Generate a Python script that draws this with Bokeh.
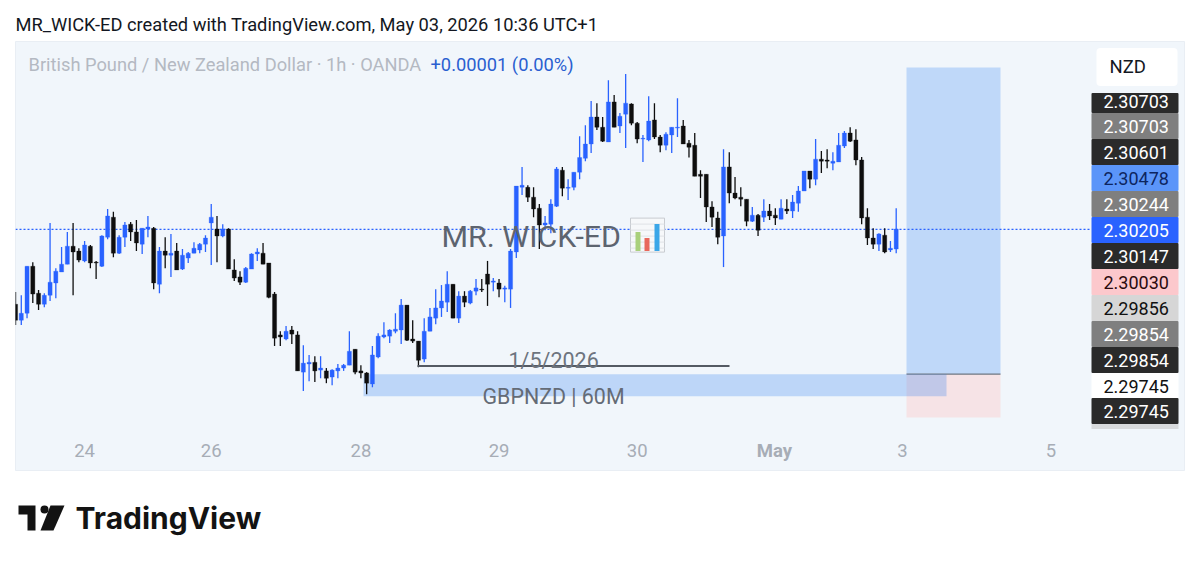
from bokeh.plotting import figure
from bokeh.layouts import column
from bokeh.models import ColumnDataSource, FixedTicker, LinearAxis, Range1d
from bokeh.core.properties import value
from bokeh.embed import file_html
from bokeh.resources import INLINE

# ---- candle data (GBPNZD, 1h) ----
open_ = [2.30022,2.29983,2.30000,2.30115,2.30049,2.30022,2.30044,2.30074,2.30101,2.30120,2.30164,2.30152,2.30128,2.30164,2.30125,2.30115,2.30186,2.30235,2.30147,2.30186,
2.30218,2.30199,2.30169,2.30206,2.30208,2.30071,2.30152,2.30142,2.30152,2.30108,2.30135,2.30147,2.30155,2.30169,2.30221,2.30206,2.30189,2.30206,2.30106,2.30089,
2.30076,2.30108,2.30145,2.30147,2.30123,2.30047,2.29947,2.29937,2.29959,2.29947,2.29856,2.29876,2.29880,2.29861,2.29859,2.29844,2.29859,2.29866,2.29873,2.29912,
2.29859,2.29854,2.29827,2.29893,2.29942,2.29944,2.29956,2.29959,2.30020,2.29937,2.29932,2.29888,2.29956,2.29988,2.30013,2.30027,2.30071,2.29988,2.30042,2.30025,
2.30054,2.30059,2.30096,2.30076,2.30074,2.30059,2.30059,2.30150,2.30308,2.30308,2.30284,2.30257,2.30216,2.30218,2.30262,2.30350,2.30306,2.30308,2.30345,2.30379,
2.30414,2.30480,2.30455,2.30419,2.30517,2.30458,2.30487,2.30512,2.30465,2.30426,2.30424,2.30473,2.30431,2.30411,2.30436,2.30453,2.30458,2.30416,2.30411,2.30340,
2.30340,2.30260,2.30233,2.30189,2.30358,2.30294,2.30284,2.30279,2.30225,2.30240,2.30235,2.30250,2.30240,2.30230,2.30255,2.30250,2.30269,2.30299,2.30348,2.30328,
2.30377,2.30375,2.30367,2.30370,2.30409,2.30441,2.30424,2.30375,2.30235,2.30184,2.30169,2.30191,2.30155,2.30157]
high = [2.30052,2.30044,2.30115,2.30125,2.30057,2.30049,2.30221,2.30110,2.30162,2.30199,2.30221,2.30159,2.30177,2.30167,2.30128,2.30191,2.30255,2.30248,2.30191,2.30223,
2.30223,2.30228,2.30208,2.30238,2.30211,2.30162,2.30186,2.30194,2.30172,2.30157,2.30150,2.30174,2.30172,2.30191,2.30267,2.30238,2.30218,2.30208,2.30132,2.30103,
2.30113,2.30147,2.30159,2.30172,2.30123,2.30052,2.29956,2.29969,2.29969,2.29956,2.29922,2.29898,2.29895,2.29895,2.29866,2.29863,2.29876,2.29876,2.29956,2.29912,
2.29873,2.29856,2.29920,2.29951,2.29978,2.29961,2.30000,2.30035,2.30020,2.29983,2.29932,2.29988,2.30013,2.30059,2.30069,2.30103,2.30071,2.30054,2.30054,2.30057,
2.30084,2.30084,2.30128,2.30086,2.30084,2.30067,2.30157,2.30311,2.30358,2.30313,2.30308,2.30267,2.30238,2.30279,2.30358,2.30358,2.30328,2.30345,2.30433,2.30460,
2.30519,2.30514,2.30480,2.30570,2.30534,2.30490,2.30585,2.30514,2.30468,2.30436,2.30531,2.30514,2.30436,2.30443,2.30455,2.30526,2.30473,2.30424,2.30441,2.30350,
2.30340,2.30274,2.30248,2.30401,2.30394,2.30333,2.30308,2.30279,2.30260,2.30243,2.30279,2.30267,2.30257,2.30279,2.30279,2.30289,2.30311,2.30348,2.30348,2.30426,
2.30397,2.30401,2.30394,2.30441,2.30446,2.30455,2.30450,2.30382,2.30257,2.30208,2.30196,2.30208,2.30177,2.30257]
low = [2.29971,2.29971,2.29988,2.30025,2.30008,2.30015,2.30030,2.30037,2.30101,2.30120,2.30044,2.30125,2.30125,2.30110,2.30084,2.30113,2.30181,2.30137,2.30145,2.30162,
2.30177,2.30152,2.30145,2.30186,2.30059,2.30049,2.30110,2.30089,2.30106,2.30106,2.30123,2.30147,2.30147,2.30150,2.30118,2.30125,2.30186,2.30108,2.30079,2.30069,
2.30074,2.30108,2.30128,2.30120,2.30037,2.29920,2.29920,2.29934,2.29925,2.29859,2.29810,2.29834,2.29832,2.29841,2.29829,2.29824,2.29841,2.29859,2.29873,2.29851,
2.29841,2.29802,2.29819,2.29890,2.29939,2.29927,2.29951,2.29925,2.29932,2.29927,2.29868,2.29880,2.29956,2.29973,2.29991,2.30003,2.29988,2.29976,2.30015,2.30022,
2.30044,2.30052,2.30018,2.30054,2.30039,2.30027,2.30013,2.30135,2.30289,2.30272,2.30235,2.30157,2.30203,2.30196,2.30260,2.30286,2.30277,2.30301,2.30328,2.30372,
2.30392,2.30448,2.30419,2.30419,2.30455,2.30441,2.30404,2.30460,2.30416,2.30370,2.30421,2.30426,2.30394,2.30399,2.30392,2.30431,2.30414,2.30381,2.30335,2.30282,
2.30223,2.30211,2.30169,2.30113,2.30269,2.30279,2.30262,2.30213,2.30223,2.30189,2.30223,2.30228,2.30216,2.30230,2.30243,2.30233,2.30248,2.30299,2.30306,2.30313,
2.30343,2.30355,2.30350,2.30370,2.30404,2.30419,2.30362,2.30218,2.30167,2.30157,2.30152,2.30147,2.30150,2.30147]
close = [2.29983,2.30000,2.30115,2.30047,2.30022,2.30044,2.30076,2.30103,2.30120,2.30164,2.30150,2.30130,2.30167,2.30123,2.30123,2.30189,2.30238,2.30147,2.30186,2.30216,
2.30199,2.30172,2.30208,2.30211,2.30074,2.30152,2.30142,2.30147,2.30106,2.30142,2.30147,2.30159,2.30169,2.30184,2.30235,2.30189,2.30206,2.30108,2.30086,2.30076,
2.30110,2.30145,2.30150,2.30120,2.30039,2.29939,2.29942,2.29956,2.29949,2.29859,2.29878,2.29880,2.29859,2.29866,2.29841,2.29861,2.29866,2.29873,2.29907,2.29856,
2.29854,2.29829,2.29898,2.29944,2.29947,2.29959,2.29961,2.30020,2.29934,2.29932,2.29885,2.29956,2.29991,2.30013,2.30030,2.30071,2.29988,2.30042,2.30027,2.30054,
2.30062,2.30057,2.30071,2.30079,2.30059,2.30062,2.30152,2.30311,2.30313,2.30284,2.30255,2.30216,2.30221,2.30267,2.30353,2.30306,2.30308,2.30345,2.30381,2.30414,
2.30480,2.30455,2.30421,2.30517,2.30455,2.30482,2.30514,2.30465,2.30426,2.30428,2.30470,2.30431,2.30411,2.30438,2.30455,2.30455,2.30414,2.30406,2.30335,2.30335,
2.30260,2.30235,2.30186,2.30358,2.30294,2.30282,2.30279,2.30225,2.30240,2.30203,2.30250,2.30238,2.30233,2.30257,2.30250,2.30272,2.30299,2.30348,2.30328,2.30377,
2.30372,2.30372,2.30372,2.30411,2.30441,2.30421,2.30375,2.30233,2.30184,2.30169,2.30194,2.30150,2.30159,2.30206]

day_ticks = [13, 35, 61, 85, 109, 155.1, 180.9]
day_labels = ["24", "26", "28", "29", "30", "3", "5"]
month_tick = 132.85
month_label = "May"

last_price = 2.30205
target_price = 2.30601
entry_price = 2.29851
stop_price = 2.29745
zone_top = 2.29851
zone_bottom = 2.29797
note_price = 2.29871

scale_labels = ["2.30703","2.30703","2.30601","2.30478","2.30244","2.30205","2.30147","2.30030","2.29856","2.29854","2.29854","2.29745","2.29745"]
scale_fills  = ["#2a2a2a","#7f7f7f","#2a2a2a","#5b95f9","#7f7f7f","#2962ff","#2a2a2a","#fcc8cc","#d6d6d6","#7f7f7f","#2a2a2a","#ffffff","#2a2a2a"]
scale_texts  = ["#ffffff","#ffffff","#ffffff","#0d2560","#ffffff","#ffffff","#ffffff","#2a0a0e","#111111","#ffffff","#ffffff","#111111","#ffffff"]

# ---- layout helpers: page pixel -> data ----
def X(px):
    return (px - 9.276) / 5.756

def Y(py):
    return 2.30766 - 0.00002446 * py

BLUE = "#2962ff"
BLACK = "#0e0e0e"
PANEL = "#f1f6fb"
W, H = 1191, 430

p = figure(width=W, height=H, output_backend="svg", toolbar_location=None,
           x_range=Range1d(X(15), X(1184)), y_range=Range1d(Y(471.4), Y(41.4)),
           y_axis_location=None, min_border_left=15, min_border_right=7,
           min_border_top=0, min_border_bottom=0,
           background_fill_color=PANEL, border_fill_color="#ffffff",
           outline_line_color="#e9eef4")
p.grid.visible = False

# time axis, drawn inside the panel
ax = p.xaxis[0]
ax.ticker = FixedTicker(ticks=day_ticks)
ax.major_label_overrides = {t: l for t, l in zip(day_ticks, day_labels)}
ax.fixed_location = Y(443.4)
ax.axis_line_color = None
ax.major_tick_line_color = None
ax.minor_tick_line_color = None
ax.major_tick_out = 0
ax.major_tick_in = 0
ax.major_label_text_font = "Roboto"
ax.major_label_text_font_size = "18.5px"
ax.major_label_text_color = "#a7adb6"
ax.major_label_standoff = 0

ax2 = LinearAxis(ticker=FixedTicker(ticks=[month_tick]),
                 major_label_overrides={month_tick: month_label},
                 fixed_location=Y(439.4), axis_line_color=None,
                 major_tick_line_color=None, minor_tick_line_color=None,
                 major_tick_out=0, major_tick_in=0,
                 major_label_text_font="Roboto", major_label_text_font_size="18.5px",
                 major_label_text_font_style="bold", major_label_text_color="#a7adb6",
                 major_label_standoff=0)
p.add_layout(ax2, "below")

# long position tool
p.quad(left=[X(906)], right=[X(1000)], top=[target_price], bottom=[entry_price],
       fill_color="#bfd8f9", line_color=None)
p.quad(left=[X(906)], right=[X(1000)], top=[entry_price], bottom=[stop_price],
       fill_color="#f6e3e6", line_color=None)
p.segment(x0=[X(906)], x1=[X(1000)], y0=[entry_price], y1=[entry_price],
          line_color="#6f7681", line_width=1.2)
# demand zone
p.quad(left=[X(363)], right=[X(946)], top=[zone_top], bottom=[zone_bottom],
       fill_color="#297aef", fill_alpha=0.26, line_color=None)
# last price line
p.segment(x0=[X(15)], x1=[X(1091)], y0=[last_price], y1=[last_price],
          line_color=BLUE, line_width=1.3, line_dash="2 2")

# candles
n = len(close)
bars = list(range(1, n + 1))
colors = [BLUE if c >= o else BLACK for o, c in zip(open_, close)]
src = ColumnDataSource(dict(x=bars, open=open_, high=high, low=low, close=close, color=colors))
p.segment(x0="x", x1="x", y0="low", y1="high", source=src, line_color="color", line_width=1.3)
p.vbar(x="x", width=0.72, top="open", bottom="close", source=src, fill_color="color", line_color="color", line_width=0.3)

# drawing notes
p.segment(x0=[X(417)], x1=[X(729)], y0=[note_price], y1=[note_price], line_color="#545a63", line_width=2)
p.text(x=[X(508)], y=[Y(360)], text=["1/5/2026"], text_font=value("Roboto"), text_font_size="21.5px",
       text_color="#6d747e", text_baseline="middle")
p.text(x=[X(482)], y=[Y(396)], text=["GBPNZD | 60M"], text_font=value("Roboto"), text_font_size="21.4px",
       text_color="#646b76", text_baseline="middle")
p.text(x=[X(441)], y=[Y(236)], text=["MR. WICK-ED"], text_font=value("Roboto"), text_font_size="30.4px",
       text_color="#5d646f", text_baseline="middle")

# bar chart icon after the watermark
p.quad(left=[X(630)], right=[X(664)], top=[Y(218)], bottom=[Y(252)],
       fill_color="#f6f8fa", line_color="#c8ccd1", line_width=1)
for gy in [224, 230, 236, 242, 248]:
    p.segment(x0=[X(630)], x1=[X(664)], y0=[Y(gy)], y1=[Y(gy)], line_color="#dfe2e6", line_width=1)
icon_l = [635, 644, 654]
icon_t = [232, 238, 224]
icon_c = ["#a9d07c", "#e8685c", "#3aa6e8"]
p.quad(left=[X(v) for v in icon_l], right=[X(v + 5) for v in icon_l],
       top=[Y(v) for v in icon_t], bottom=[Y(251)] * 3, fill_color=icon_c, line_color=None)

# legend line
p.text(x=[X(28)], y=[Y(64)], text=["British Pound / New Zealand Dollar \u00b7 1h \u00b7 OANDA"],
       text_font=value("Roboto"), text_font_size="18.3px", text_color="#b4b9c2", text_baseline="middle")
p.text(x=[X(430)], y=[Y(64)], text=["+0.00001 (0.00%)"],
       text_font=value("Roboto"), text_font_size="18.3px", text_color="#2a5fd0", text_baseline="middle")

# currency box and price scale
p.quad(left=[X(1096)], right=[X(1177)], top=[Y(48)], bottom=[Y(86)], fill_color="#ffffff",
       line_color=None, border_radius=4)
p.text(x=[X(1109)], y=[Y(67)], text=["NZD"], text_font=value("Roboto"), text_font_size="18.5px",
       text_color="#131722", text_baseline="middle")

p.quad(left=[X(1091)], right=[X(1178)], top=[Y(424)], bottom=[Y(429)], fill_color="#d8dadc", line_color=None)
rows_top = [93] + [113 + 26 * i for i in range(11)] + [398]
rows_bot = [113 + 26 * i for i in range(12)] + [424]
rows_mid = [101] + [126 + 26 * i for i in range(11)] + [411]
p.quad(left=[X(1091)] * 13, right=[X(1178)] * 13, top=[Y(v) for v in rows_top],
       bottom=[Y(v) for v in rows_bot], fill_color=scale_fills, line_color=None, border_radius=1)
p.text(x=[X(1103)] * 13, y=[Y(v) for v in rows_mid], text=scale_labels, text_color=scale_texts,
       text_font=value("Roboto"), text_font_size="18px", text_baseline="middle")

# header (its frame lines up with the chart frame, so x runs from 15 to 1184)
head = figure(width=W, height=41, output_backend="svg", toolbar_location=None,
              x_range=Range1d(15, 1184), y_range=Range1d(41, 0), x_axis_location=None, y_axis_location=None,
              min_border_left=15, min_border_right=7, min_border_top=0, min_border_bottom=0,
              outline_line_color=None, background_fill_color="#ffffff")
head.grid.visible = False
head.text(x=[15], y=[24], text=["MR_WICK-ED created with TradingView.com, May 03, 2026 10:36 UTC+1"],
          text_font=value("Roboto"), text_font_size="18.3px", text_color="#131722", text_baseline="middle")

# footer with logo (same frame alignment as the header)
foot = figure(width=W, height=90, output_backend="svg", toolbar_location=None,
              x_range=Range1d(15, 1184), y_range=Range1d(90, 0), x_axis_location=None, y_axis_location=None,
              min_border_left=15, min_border_right=7, min_border_top=0, min_border_bottom=0,
              outline_line_color=None, background_fill_color="#ffffff")
foot.grid.visible = False
oy = 471
foot.patches(xs=[[18, 35, 35, 27, 27, 18], [50, 64, 53, 40]],
             ys=[[v - oy for v in (505, 505, 530, 530, 514, 514)],
                 [v - oy for v in (505, 505, 530, 530)]],
             fill_color="#131313", line_color=None)
foot.circle(x=[44], y=[509 - oy], radius=4, fill_color="#131313", line_color=None)
foot.text(x=[75], y=[517 - oy], text=["TradingView"], text_font=value("Inter"), text_font_size="30px",
          text_font_style="bold", text_color="#131313", text_baseline="middle")

page = column(head, p, foot, spacing=0)
open("out.html", "w").write(file_html(page, INLINE))
